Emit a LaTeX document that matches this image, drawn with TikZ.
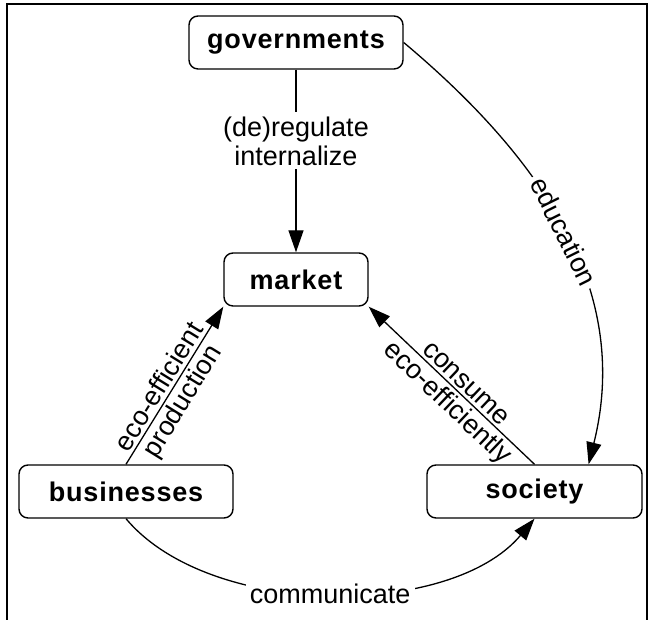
\documentclass[tikz,border=0pt]{standalone}
\usepackage{fontspec}
\setmainfont{Liberation Sans}
\usetikzlibrary{calc,arrows.meta}

\begin{document}
\begin{tikzpicture}[x=1pt,y=1pt,
  actor/.style={draw,line width=1.4pt,rounded corners=9pt,minimum height=53pt,inner sep=0pt,
    font=\fontsize{27}{32}\selectfont\bfseries\addfontfeature{LetterSpace=3}},
  flow/.style={line width=1.3pt,-{Triangle[length=22pt,width=15pt]}},
  lbl/.style={font=\fontsize{27}{29}\selectfont,inner sep=3pt},
  onlbl/.style={lbl,fill=white,inner sep=4pt}]

\useasboundingbox (0,0) rectangle (649,620);
\draw[line width=2.5pt](7,-10)--(7,616)--(647,616)--(647,-10);

\node[actor,minimum width=214pt] (gov) at (296,577.5) {governments};
\node[actor,minimum width=144pt] (mkt) at (296,340.5) {market};
\node[actor,minimum width=214pt] (biz) at (126,128.5) {businesses};
\node[actor,minimum width=215pt] (soc) at (534.5,128.5) {society};

\draw[flow](gov)--node[onlbl,pos=0.39,align=center]{(de)regulate\\internalize}(mkt);
\draw[flow](biz.north)--node[lbl,sloped,above,pos=0.45]{eco-efficient}
  node[lbl,sloped,below,pos=0.45]{production}(mkt.south west);
\draw[flow](soc.north)--node[lbl,sloped,above,pos=0.46]{consume}
  node[lbl,sloped,below,pos=0.46]{eco-efficiently}(mkt.south east);
\draw[flow](gov.east) to[out=-40,in=76] node[onlbl,sloped]{education}
  ($(soc.north)!0.5!(soc.north east)$);
\draw[flow](biz.south) to[out=-50,in=-130,looseness=0.82] node[onlbl]{communicate}(soc.south);

\end{tikzpicture}
\end{document}
